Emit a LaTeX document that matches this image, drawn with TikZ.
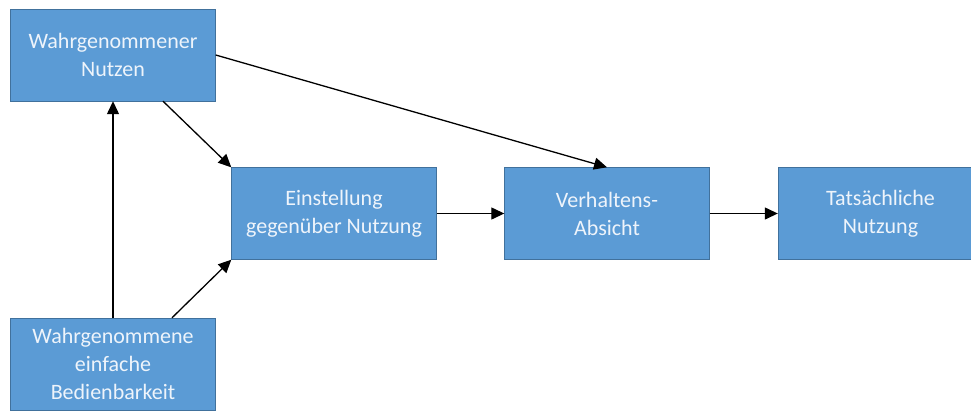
\documentclass[tikz,border=0pt]{standalone}
\usepackage{fontspec}
\setmainfont{Carlito}
\usetikzlibrary{arrows.meta}
\definecolor{boxblue}{HTML}{5B9BD5}
\definecolor{boxline}{HTML}{41719C}
\definecolor{boxtext}{HTML}{EEF4FB}
\begin{document}
\begin{tikzpicture}[x=1pt,y=-1pt,
  box/.style={draw=boxline,fill=boxblue,text=boxtext,minimum width=205pt,minimum height=92pt,
    align=center,font=\fontsize{22}{28}\selectfont,inner sep=0pt},
  arr/.style={-{Triangle[length=13pt,width=12pt]},line width=1.3pt}]
\useasboundingbox (0,0) rectangle (971,410);
\node[box] (nutzen) at(113,55) {Wahrgenommener\\Nutzen};
\node[box] (einst) at(334,213.5) {Einstellung\\gegenüber Nutzung};
\node[box] (absicht) at(607,213.5) {Verhaltens-\\Absicht};
\node[box] (tats) at(880.5,213.5) {Tatsächliche\\Nutzung};
\node[box] (bedien) at(113,364) {Wahrgenommene\\einfache\\Bedienbarkeit};
\draw[arr] (bedien.north) -- (nutzen.south);
\draw[arr] ([xshift=50pt]nutzen.south) -- (einst.north west);
\draw[arr] ([xshift=59pt]bedien.north) -- (einst.south west);
\draw[arr] (nutzen.east) -- (absicht.north);
\draw[arr] (einst.east) -- (absicht.west);
\draw[arr] (absicht.east) -- (tats.west);
\end{tikzpicture}
\end{document}
